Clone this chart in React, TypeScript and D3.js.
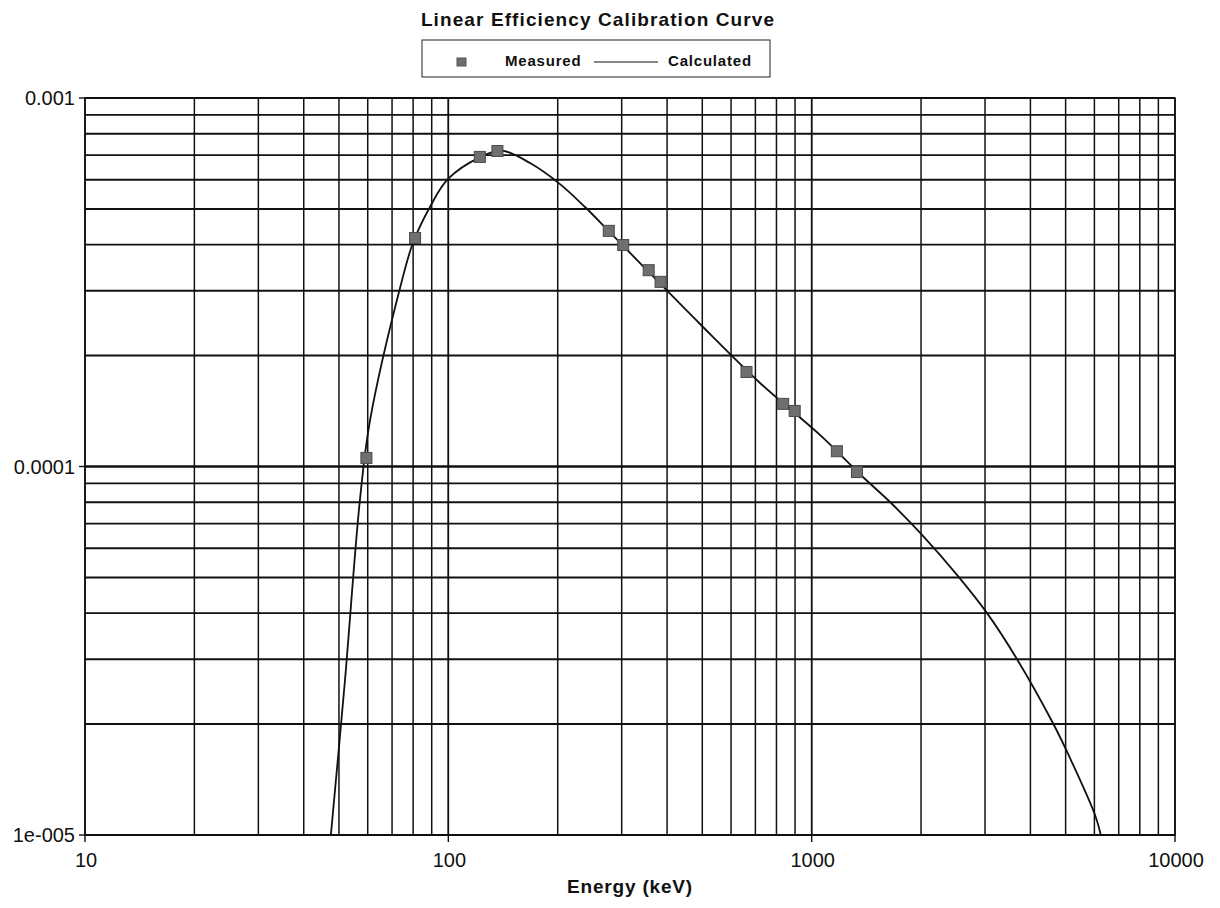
import React from "react";
import * as d3 from "d3";

// Measured calibration peaks (energy keV, efficiency)
const measuredEnergy = [59.5, 81.0, 122.1, 136.5, 276.4, 302.9, 356.0, 383.8, 661.7, 834.8, 898.0, 1173.2, 1332.5];
const measuredEff = [1.055e-4, 4.17e-4, 6.92e-4, 7.18e-4, 4.36e-4, 3.99e-4, 3.41e-4, 3.17e-4, 1.805e-4, 1.479e-4, 1.415e-4, 1.10e-4, 9.66e-5];

// Calculated efficiency curve samples
const curveEnergy = [47.5, 51.95, 57.1, 60.9, 74.6, 79.9, 89.0, 99.8, 122, 140, 167.8, 202.9, 237.8, 276, 336.9, 492.8, 720.9, 1054, 1384, 1643, 2013, 2528, 3039, 3675, 4616, 5140, 6025, 6250];
const curveEff = [1.0e-5, 2.634e-5, 8.11e-5, 1.337e-4, 3.207e-4, 4.04e-4, 5.06e-4, 6.03e-4, 6.9e-4, 7.2e-4, 6.66e-4, 5.84e-4, 5.06e-4, 4.36e-4, 3.565e-4, 2.436e-4, 1.685e-4, 1.218e-4, 9.364e-5, 8.01e-5, 6.52e-5, 5.04e-5, 4.0e-5, 3.0e-5, 2.01e-5, 1.618e-5, 1.133e-5, 1.0e-5];

const xTickValues = [10, 100, 1000, 10000];
const xTickLabels = ["10", "100", "1000", "10000"];
const yTickValues = [1e-3, 1e-4, 1e-5];
const yTickLabels = ["0.001", "0.0001", "1e-005"];

const W = 1220;
const H = 908;
const left = 85, right = 1175, top = 98, bottom = 835;

const font = "'Liberation Sans', Arial, Helvetica, sans-serif";

export default function App() {
  const x = d3.scaleLog().domain([10, 10000]).range([left, right]);
  const y = d3.scaleLog().domain([1e-5, 1e-3]).range([bottom, top]);

  const xGrid: number[] = [];
  for (let d = 10; d < 10000; d *= 10) for (let k = 1; k <= 10; k++) xGrid.push(d * k);
  const yGrid: number[] = [];
  for (let d = 1e-5; d < 1e-3 * 0.99; d *= 10) for (let k = 1; k <= 10; k++) yGrid.push(d * k);

  const line = d3
    .line<number>()
    .x((_, i) => x(curveEnergy[i]))
    .y((_, i) => y(curveEff[i]))
    .curve(d3.curveCatmullRom.alpha(0.5));

  const sq = 11;

  return (
    <svg width={W} height={H} style={{ position: "absolute", left: 0, top: 0, background: "#fff" }}>
      <defs>
        <clipPath id="plotClip">
          <rect x={left} y={top} width={right - left} height={bottom - top} />
        </clipPath>
      </defs>

      <text x={598} y={26} textAnchor="middle" fontFamily={font} fontWeight="bold" fontSize={19} letterSpacing={1.1} fill="#111">
        Linear Efficiency Calibration Curve
      </text>

      {/* legend */}
      <rect x={422} y={40} width={348} height={37} fill="none" stroke="#222" strokeWidth={1} />
      <rect x={457} y={58} width={9} height={8} fill="#6f6f6f" stroke="#555" strokeWidth={1} />
      <text x={505} y={66} fontFamily={font} fontWeight="bold" fontSize={15} letterSpacing={0.8} fill="#111">Measured</text>
      <line x1={594} x2={658} y1={62} y2={62} stroke="#111" strokeWidth={1.2} />
      <text x={668} y={66} fontFamily={font} fontWeight="bold" fontSize={15} letterSpacing={0.8} fill="#111">Calculated</text>

      {/* grid */}
      {yGrid.map((v, i) => (
        <line key={"h" + i} x1={left} x2={right} y1={y(v)} y2={y(v)} stroke="#111" strokeWidth={1.9} />
      ))}
      {xGrid.map((v, i) => (
        <line key={"v" + i} x1={x(v)} x2={x(v)} y1={top} y2={bottom} stroke="#111" strokeWidth={1.5} />
      ))}
      <rect x={left} y={top} width={right - left} height={bottom - top} fill="none" stroke="#111" strokeWidth={1.6} />

      {/* axis ticks and labels */}
      {yTickValues.map((v, i) => (
        <g key={"yt" + i}>
          <line x1={left - 6} x2={left} y1={y(v)} y2={y(v)} stroke="#111" strokeWidth={1.4} />
          <text x={75} y={y(v) + 7} textAnchor="end" fontFamily={font} fontSize={20} fill="#111">
            {yTickLabels[i]}
          </text>
        </g>
      ))}
      {xTickValues.map((v, i) => (
        <g key={"xt" + i}>
          <line x1={x(v)} x2={x(v)} y1={bottom} y2={bottom + 7} stroke="#111" strokeWidth={1.4} />
          <text x={x(v) + 1} y={867} textAnchor="middle" fontFamily={font} fontSize={20} fill="#111">
            {xTickLabels[i]}
          </text>
        </g>
      ))}
      <text x={630} y={893} textAnchor="middle" fontFamily={font} fontWeight="bold" fontSize={19} letterSpacing={0.8} fill="#111">
        Energy (keV)
      </text>

      {/* calculated curve */}
      <path d={line(curveEnergy) || ""} fill="none" stroke="#111" strokeWidth={1.8} clipPath="url(#plotClip)" />

      {/* measured points */}
      {measuredEnergy.map((e, i) => (
        <rect
          key={"m" + i}
          x={x(e) - sq / 2}
          y={y(measuredEff[i]) - sq / 2}
          width={sq}
          height={sq}
          fill="#6f6f6f"
          stroke="#4a4a4a"
          strokeWidth={1}
        />
      ))}
    </svg>
  );
}
